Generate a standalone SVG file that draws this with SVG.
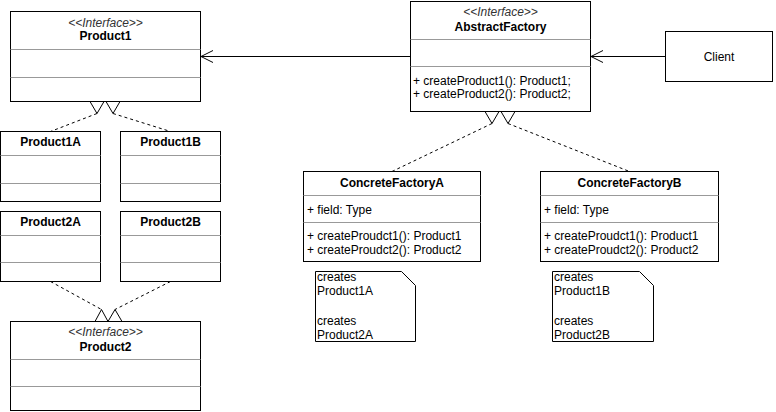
<svg xmlns="http://www.w3.org/2000/svg" width="776" height="412" viewBox="0 0 776 412">
<style>
  .box{fill:#fff;stroke:#000;stroke-width:1}
  .sep{stroke:#999;stroke-width:1;fill:none}
  .t{font-family:"Liberation Sans",Arial,sans-serif;font-size:12px;fill:#000}
  .b{font-weight:bold}
  .c{text-anchor:middle}
  .st{font-style:italic;fill:#333}
  .line{stroke:#000;stroke-width:1;fill:none}
  .dash{stroke:#000;stroke-width:1;fill:none;stroke-dasharray:3 3}
  .tri{fill:#fff;stroke:#000;stroke-width:1}
  .note{fill:#fff;stroke:#000;stroke-width:1}
</style>
<rect width="776" height="412" fill="#fff"/>

<g id="connectors">
  <line class="line" x1="410.5" y1="56.5" x2="201" y2="56.5"/>
  <polyline class="line" points="213,50.5 201,56.5 213,62.5"/>
  <line class="line" x1="665.5" y1="56.5" x2="591" y2="56.5"/>
  <polyline class="line" points="603,50.5 591,56.5 603,62.5"/>

  <line class="dash" x1="97" y1="113.5" x2="50.5" y2="131.5"/>
  <line class="dash" x1="113" y1="113.5" x2="170.5" y2="131.5"/>
  <polygon class="tri" points="90,101.5 104,101.5 97,113.5"/>
  <polygon class="tri" points="106,101.5 120,101.5 113,113.5"/>

  <line class="dash" x1="50.5" y1="281.5" x2="101.5" y2="309.5"/>
  <line class="dash" x1="170.5" y1="281.5" x2="115" y2="309.5"/>
  <polygon class="tri" points="95,321.5 108,321.5 101.5,309.5"/>
  <polygon class="tri" points="108,321.5 122,321.5 115,309.5"/>

  <line class="dash" x1="492" y1="123.5" x2="392" y2="171.5"/>
  <line class="dash" x1="508" y1="123.5" x2="629.5" y2="171.5"/>
  <polygon class="tri" points="485,111.5 499,111.5 492,123.5"/>
  <polygon class="tri" points="501,111.5 515,111.5 508,123.5"/>
</g>

<g id="Product1">
  <rect class="box" x="10.5" y="11.5" width="190" height="90"/>
  <line class="sep" x1="10.5" y1="49.5" x2="200.5" y2="49.5"/>
  <line class="sep" x1="10.5" y1="77.5" x2="200.5" y2="77.5"/>
  <text class="t st c" x="105.5" y="26.5">&lt;&lt;Interface&gt;&gt;</text>
  <text class="t b c" x="105.5" y="39.5">Product1</text>
</g>

<g id="Product1A">
  <rect class="box" x="0.5" y="131.5" width="100" height="70"/>
  <line class="sep" x1="0.5" y1="155.5" x2="100.5" y2="155.5"/>
  <line class="sep" x1="0.5" y1="183.5" x2="100.5" y2="183.5"/>
  <text class="t b c" x="50.5" y="146">Product1A</text>
</g>

<g id="Product1B">
  <rect class="box" x="120.5" y="131.5" width="100" height="70"/>
  <line class="sep" x1="120.5" y1="155.5" x2="220.5" y2="155.5"/>
  <line class="sep" x1="120.5" y1="183.5" x2="220.5" y2="183.5"/>
  <text class="t b c" x="170.5" y="146">Product1B</text>
</g>

<g id="Product2A">
  <rect class="box" x="0.5" y="211.5" width="100" height="70"/>
  <line class="sep" x1="0.5" y1="235.5" x2="100.5" y2="235.5"/>
  <line class="sep" x1="0.5" y1="262.5" x2="100.5" y2="262.5"/>
  <text class="t b c" x="50.5" y="226">Product2A</text>
</g>

<g id="Product2B">
  <rect class="box" x="120.5" y="211.5" width="100" height="70"/>
  <line class="sep" x1="120.5" y1="235.5" x2="220.5" y2="235.5"/>
  <line class="sep" x1="120.5" y1="262.5" x2="220.5" y2="262.5"/>
  <text class="t b c" x="170.5" y="226">Product2B</text>
</g>

<g id="Product2">
  <rect class="box" x="10.5" y="321.5" width="190" height="89"/>
  <line class="sep" x1="10.5" y1="359.5" x2="200.5" y2="359.5"/>
  <line class="sep" x1="10.5" y1="386.5" x2="200.5" y2="386.5"/>
  <text class="t st c" x="105.5" y="336">&lt;&lt;Interface&gt;&gt;</text>
  <text class="t b c" x="105.5" y="350.5">Product2</text>
</g>

<g id="AbstractFactory">
  <rect class="box" x="410.5" y="1.5" width="180" height="110"/>
  <line class="sep" x1="410.5" y1="39.5" x2="590.5" y2="39.5"/>
  <line class="sep" x1="410.5" y1="66.5" x2="590.5" y2="66.5"/>
  <text class="t st c" x="500.5" y="16">&lt;&lt;Interface&gt;&gt;</text>
  <text class="t b c" x="500.5" y="30.5">AbstractFactory</text>
  <text class="t" x="413" y="85">+ createProduct1(): Product1;</text>
  <text class="t" x="413" y="97.5">+ createProduct2(): Product2;</text>
</g>

<g id="Client">
  <rect class="box" x="665.5" y="31.5" width="107" height="50"/>
  <text class="t c" x="719" y="60.5">Client</text>
</g>

<g id="ConcreteFactoryA">
  <rect class="box" x="303.5" y="171.5" width="177" height="90"/>
  <line class="sep" x1="303.5" y1="195.5" x2="480.5" y2="195.5"/>
  <line class="sep" x1="303.5" y1="222.5" x2="480.5" y2="222.5"/>
  <text class="t b c" x="392" y="187">ConcreteFactoryA</text>
  <text class="t" x="307" y="214">+ field: Type</text>
  <text class="t" x="307" y="240">+ createProudct1(): Product1</text>
  <text class="t" x="307" y="253.5">+ createProudct2(): Product2</text>
</g>

<g id="ConcreteFactoryB">
  <rect class="box" x="540.5" y="171.5" width="178" height="90"/>
  <line class="sep" x1="540.5" y1="195.5" x2="718.5" y2="195.5"/>
  <line class="sep" x1="540.5" y1="222.5" x2="718.5" y2="222.5"/>
  <text class="t b c" x="629.5" y="187">ConcreteFactoryB</text>
  <text class="t" x="544" y="214">+ field: Type</text>
  <text class="t" x="544" y="240">+ createProudct1(): Product1</text>
  <text class="t" x="544" y="253.5">+ createProudct2(): Product2</text>
</g>

<g id="NoteA">
  <path class="note" d="M315.5,271.5 H401.5 L415.5,285.5 V341.5 H315.5 Z"/>
  <text class="t" x="317" y="281">creates</text>
  <text class="t" x="317" y="295">Product1A</text>
  <text class="t" x="317" y="325">creates</text>
  <text class="t" x="317" y="338.5">Product2A</text>
</g>

<g id="NoteB">
  <path class="note" d="M552.5,271.5 H639.5 L653.5,285.5 V341.5 H552.5 Z"/>
  <text class="t" x="554" y="281">creates</text>
  <text class="t" x="554" y="295">Product1B</text>
  <text class="t" x="554" y="325">creates</text>
  <text class="t" x="554" y="338.5">Product2B</text>
</g>
</svg>
